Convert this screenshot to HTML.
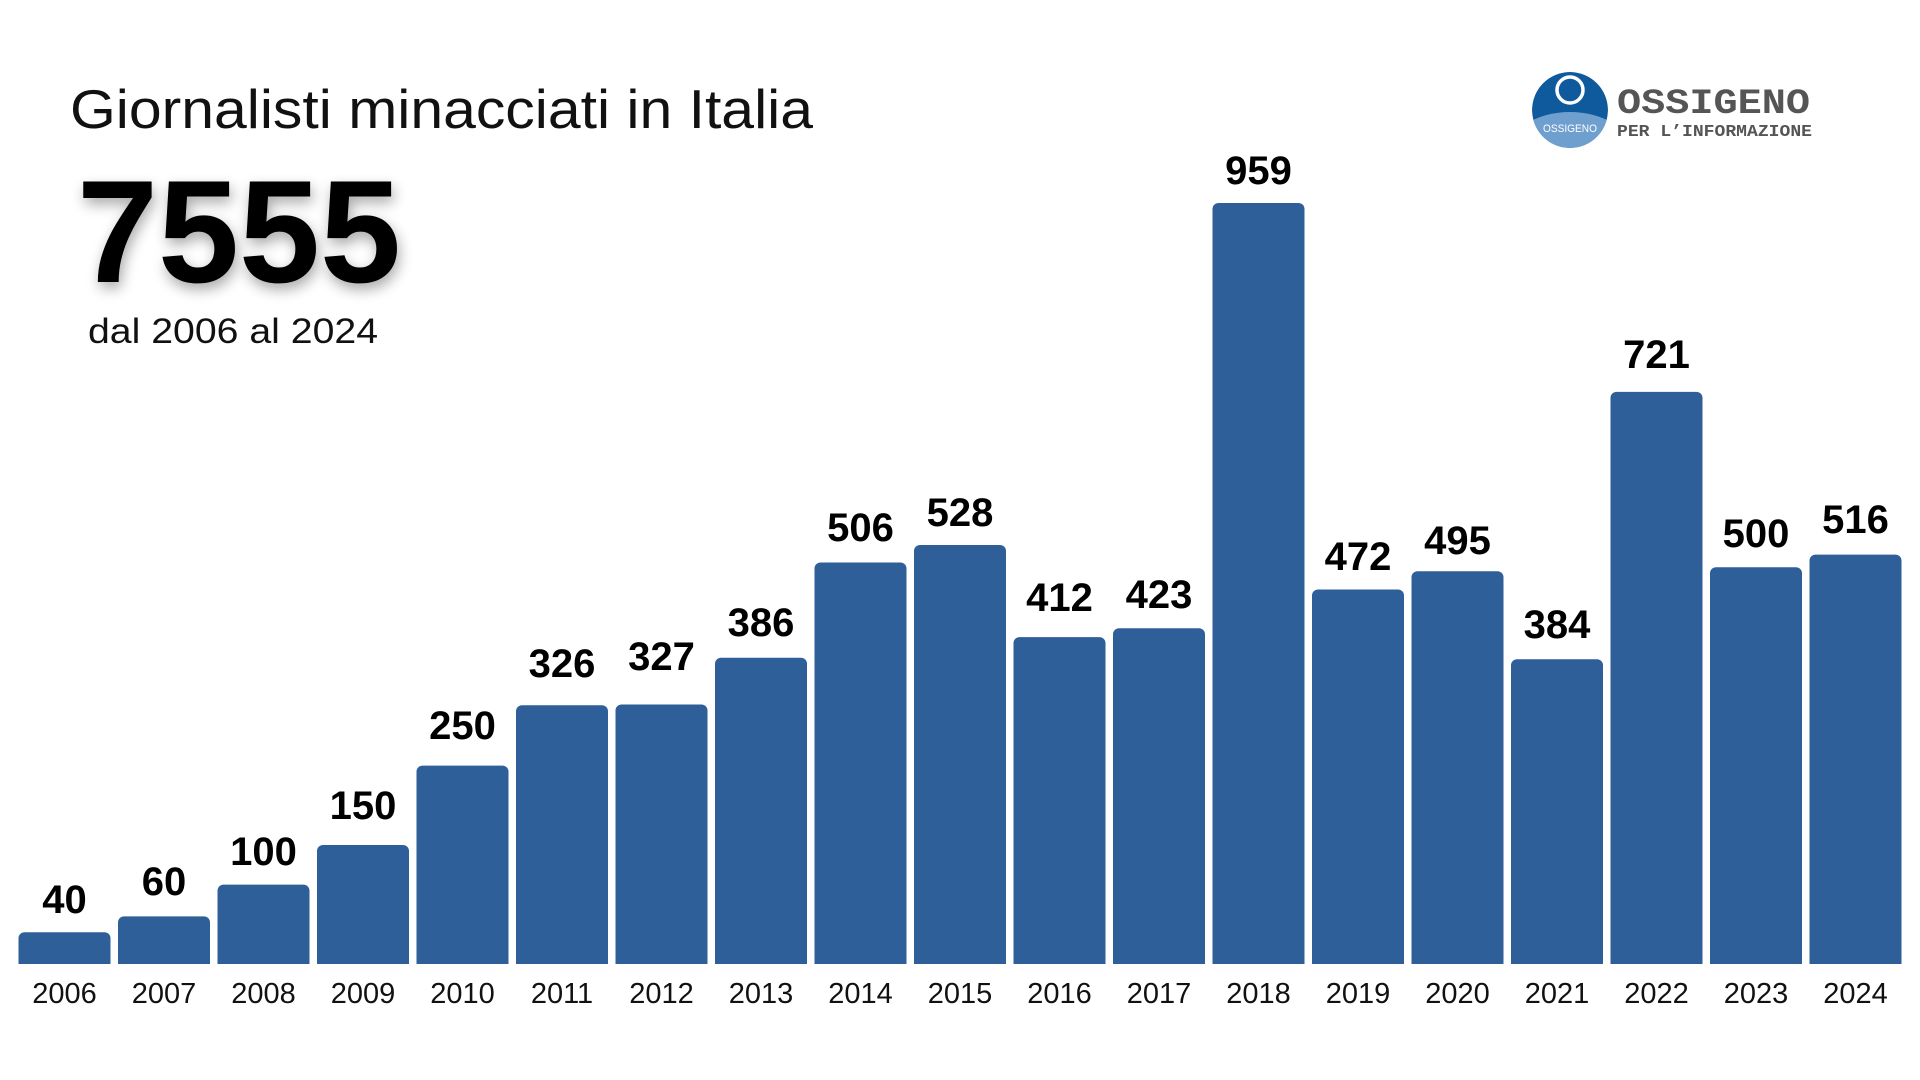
<!DOCTYPE html>
<html><head><meta charset="utf-8"><style>
html,body{margin:0;padding:0;background:#fff;width:1920px;height:1080px;overflow:hidden}
svg{display:block}
</style></head><body>
<svg width="1920" height="1080" viewBox="0 0 1920 1080" xmlns="http://www.w3.org/2000/svg">
<defs>
<filter id="sh" x="-20%" y="-20%" width="140%" height="150%"><feGaussianBlur in="SourceAlpha" stdDeviation="7"/><feOffset dx="2" dy="6"/><feComponentTransfer><feFuncA type="linear" slope="0.35"/></feComponentTransfer><feMerge><feMergeNode/><feMergeNode in="SourceGraphic"/></feMerge></filter>
<clipPath id="lc"><circle cx="1570" cy="110" r="38"/></clipPath>
</defs>
<rect width="1920" height="1080" fill="#fff"/>
<text x="70" y="128" font-family="Liberation Sans, sans-serif" font-size="55" fill="#111" textLength="743" lengthAdjust="spacingAndGlyphs">Giornalisti minacciati in Italia</text>
<text x="77" y="282" font-family="Liberation Sans, sans-serif" font-weight="bold" font-size="146" fill="#000" textLength="324" lengthAdjust="spacingAndGlyphs" filter="url(#sh)">7555</text>
<text x="88" y="343" font-family="Liberation Sans, sans-serif" font-size="35" fill="#111" textLength="290" lengthAdjust="spacingAndGlyphs">dal 2006 al 2024</text>
<g clip-path="url(#lc)">
<circle cx="1570" cy="110" r="38" fill="#0f5a9c"/>
<ellipse cx="1570" cy="150" rx="60" ry="38" fill="#6f9fcf"/>
</g>
<circle cx="1570" cy="90" r="13" fill="none" stroke="#fff" stroke-width="3.5"/>
<text x="1570" y="132" text-anchor="middle" font-family="Liberation Sans, sans-serif" font-size="11" fill="#fff" textLength="54" lengthAdjust="spacingAndGlyphs">OSSIGENO</text>
<text x="1617" y="113" font-family="Liberation Mono, monospace" font-weight="bold" font-size="35" fill="#555" textLength="193" lengthAdjust="spacingAndGlyphs">OSSIGENO</text>
<text x="1617" y="136" font-family="Liberation Mono, monospace" font-weight="bold" font-size="17" fill="#555" textLength="195" lengthAdjust="spacingAndGlyphs">PER L’INFORMAZIONE</text>
<g fill="#2f5f98">
<rect x="18.5" y="932.3" width="92" height="40" rx="6"/>
<rect x="118" y="916.4" width="92" height="56" rx="6"/>
<rect x="217.5" y="884.6" width="92" height="88" rx="6"/>
<rect x="317" y="845" width="92" height="127" rx="6"/>
<rect x="416.5" y="765.6" width="92" height="206" rx="6"/>
<rect x="516" y="705.3" width="92" height="267" rx="6"/>
<rect x="615.5" y="704.5" width="92" height="268" rx="6"/>
<rect x="715" y="657.7" width="92" height="315" rx="6"/>
<rect x="814.5" y="562.5" width="92" height="410" rx="6"/>
<rect x="914" y="545" width="92" height="427" rx="6"/>
<rect x="1013.5" y="637.1" width="92" height="335" rx="6"/>
<rect x="1113" y="628.3" width="92" height="344" rx="6"/>
<rect x="1212.5" y="203" width="92" height="769" rx="6"/>
<rect x="1312" y="589.5" width="92" height="383" rx="6"/>
<rect x="1411.5" y="571.2" width="92" height="401" rx="6"/>
<rect x="1511" y="659.3" width="92" height="313" rx="6"/>
<rect x="1610.5" y="391.9" width="92" height="580" rx="6"/>
<rect x="1710" y="567.2" width="92" height="405" rx="6"/>
<rect x="1809.5" y="554.6" width="92" height="418" rx="6"/>
</g>
<rect x="0" y="964" width="1920" height="20" fill="#fff"/>
<g font-family="Liberation Sans, sans-serif" font-weight="bold" font-size="40" fill="#000" text-anchor="middle">
<text x="64.5" y="913">40</text>
<text x="164" y="895">60</text>
<text x="263.5" y="865">100</text>
<text x="363" y="819">150</text>
<text x="462.5" y="739">250</text>
<text x="562" y="677">326</text>
<text x="661.5" y="670">327</text>
<text x="761" y="636">386</text>
<text x="860.5" y="541">506</text>
<text x="960" y="526">528</text>
<text x="1059.5" y="611">412</text>
<text x="1159" y="608">423</text>
<text x="1258.5" y="184">959</text>
<text x="1358" y="570">472</text>
<text x="1457.5" y="554">495</text>
<text x="1557" y="638">384</text>
<text x="1656.5" y="368">721</text>
<text x="1756" y="547">500</text>
<text x="1855.5" y="533">516</text>
</g>
<g font-family="Liberation Sans, sans-serif" font-size="29" fill="#111" text-anchor="middle">
<text x="64.5" y="1003">2006</text>
<text x="164" y="1003">2007</text>
<text x="263.5" y="1003">2008</text>
<text x="363" y="1003">2009</text>
<text x="462.5" y="1003">2010</text>
<text x="562" y="1003">2011</text>
<text x="661.5" y="1003">2012</text>
<text x="761" y="1003">2013</text>
<text x="860.5" y="1003">2014</text>
<text x="960" y="1003">2015</text>
<text x="1059.5" y="1003">2016</text>
<text x="1159" y="1003">2017</text>
<text x="1258.5" y="1003">2018</text>
<text x="1358" y="1003">2019</text>
<text x="1457.5" y="1003">2020</text>
<text x="1557" y="1003">2021</text>
<text x="1656.5" y="1003">2022</text>
<text x="1756" y="1003">2023</text>
<text x="1855.5" y="1003">2024</text>
</g>
</svg>
</body></html>
